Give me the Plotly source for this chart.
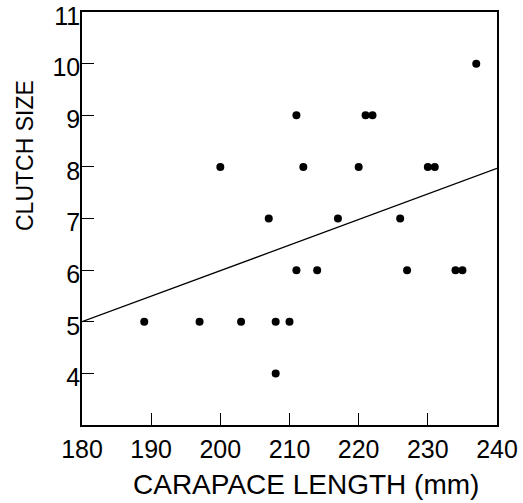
import plotly.graph_objects as go

# Data
carapace_length = [189, 197, 200, 203, 207, 208, 208, 210, 211, 211, 212, 214,
                   217, 220, 221, 222, 226, 227, 230, 231, 234, 235, 237]
clutch_size = [5, 5, 8, 5, 7, 5, 4, 5, 9, 6, 8, 6,
               7, 8, 9, 9, 7, 6, 8, 8, 6, 6, 10]
fit_x = [180, 240]
fit_y = [5.0, 7.97]
x_ticks = [180, 190, 200, 210, 220, 230, 240]
y_ticks = [4, 5, 6, 7, 8, 9, 10, 11]

FONT = "Liberation Sans, Arial, sans-serif"
W, H = 523, 503
L, R, T, B = 82, 26, 12, 78
pw, ph = W - L - R, H - T - B

fig = go.Figure()
fig.add_trace(go.Scatter(x=fit_x, y=fit_y, mode="lines",
                         line=dict(color="black", width=1.3), hoverinfo="skip"))
fig.add_trace(go.Scatter(x=carapace_length, y=clutch_size, mode="markers",
                         marker=dict(color="black", size=8, line=dict(width=0))))

axis_common = dict(showgrid=False, zeroline=False, showline=True, linecolor="black",
                   linewidth=1.5, mirror=True, ticks="inside", ticklen=12,
                   tickwidth=1, tickcolor="black", automargin=False,
                   ticklabeloverflow="allow",
                   tickfont=dict(family=FONT, size=25, color="black"))
fig.update_xaxes(range=[180, 240], tickvals=x_ticks, ticktext=[str(v) for v in x_ticks],
                 ticklabelstandoff=1, **axis_common)
fig.update_yaxes(range=[3, 11], tickvals=y_ticks, ticktext=[str(v) for v in y_ticks],
                 ticklabelstandoff=-5, ticklabelshift=4, **axis_common)

fig.add_annotation(text="CARAPACE LENGTH (mm)", xref="paper", yref="paper",
                   x=(306 - L) / pw, y=(H - B - 484) / ph, xanchor="center", yanchor="middle",
                   showarrow=False, font=dict(family=FONT, size=28, color="black"))
fig.add_annotation(text="CLUTCH SIZE", xref="paper", yref="paper",
                   x=(25 - L) / pw, y=(H - B - 156) / ph, xanchor="center", yanchor="middle",
                   textangle=-90, showarrow=False,
                   font=dict(family=FONT, size=23, color="black"))

fig.update_layout(width=W, height=H, margin=dict(l=L, r=R, t=T, b=B, pad=0),
                  plot_bgcolor="white", paper_bgcolor="white", showlegend=False)

fig.write_html("out.html", config={"displayModeBar": False},
               post_script="document.body.style.margin='0px';document.body.style.overflow='hidden';")
